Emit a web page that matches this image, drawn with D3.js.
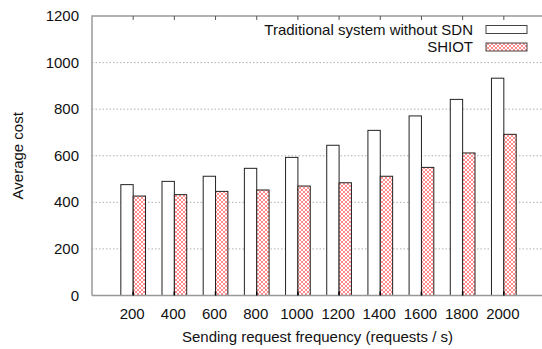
<!DOCTYPE html>
<html>
<head>
  <title>Average cost</title>
  <script src="https://d3js.org/d3.v7.min.js"></script>
  <style>
    body { margin: 0; background: #fff; }
    text { font-family: "Liberation Sans", Arial, sans-serif; fill: #111; }
  </style>
</head>
<body>
<script>
var frequencies = ["200", "400", "600", "800", "1000", "1200", "1400", "1600", "1800", "2000"];
var traditional = [476, 490, 512, 546, 593, 645, 709, 771, 842, 933];
var shiot = [427, 433, 447, 453, 470, 484, 512, 550, 612, 692];
var yTicks = [0, 200, 400, 600, 800, 1000, 1200];
var seriesNames = ["Traditional system without SDN", "SHIOT"];

var width = 542, height = 349;
var plotLeft = 92, plotTop = 16, plotBottom = 295.5, plotRight = 545;

var svg = d3.select("body").append("svg")
    .attr("width", width)
    .attr("height", height);

// red cross-hatch fill
var defs = svg.append("defs");
var pat = defs.append("pattern")
    .attr("id", "hatch")
    .attr("patternUnits", "userSpaceOnUse")
    .attr("width", 4)
    .attr("height", 4);
pat.append("rect").attr("width", 4).attr("height", 4).attr("fill", "#fff");
pat.append("path")
    .attr("d", "M0,0 L4,4 M4,0 L0,4")
    .attr("stroke", "#ff7070")
    .attr("stroke-width", 0.8);

var x = d3.scaleLinear().domain([-1, 10]).range([plotLeft, plotRight]);
var y = d3.scaleLinear().domain([0, 1200]).range([plotBottom, plotTop]);
var unit = x(1) - x(0);
var bw = unit * 0.3;

// grid
svg.append("g")
  .selectAll("line")
  .data(yTicks.filter(function(d) { return d > 0 && d < 1200; }))
  .enter().append("line")
    .attr("x1", plotLeft).attr("x2", width)
    .attr("y1", function(d) { return y(d); })
    .attr("y2", function(d) { return y(d); })
    .attr("stroke", "#b0b0b0")
    .attr("stroke-width", 1)
    .attr("stroke-dasharray", "1.5,2");

// bars
var groups = svg.append("g").selectAll("g")
    .data(frequencies)
    .enter().append("g");

groups.append("rect")
    .attr("x", function(d, i) { return x(i) - bw; })
    .attr("y", function(d, i) { return y(traditional[i]); })
    .attr("width", bw)
    .attr("height", function(d, i) { return y(0) - y(traditional[i]); })
    .attr("fill", "#fff")
    .attr("stroke", "#222")
    .attr("stroke-width", 1);

groups.append("rect")
    .attr("x", function(d, i) { return x(i); })
    .attr("y", function(d, i) { return y(shiot[i]); })
    .attr("width", bw)
    .attr("height", function(d, i) { return y(0) - y(shiot[i]); })
    .attr("fill", "url(#hatch)")
    .attr("stroke", "#222")
    .attr("stroke-width", 1);

// frame
svg.append("path")
    .attr("d", "M" + plotLeft + "," + plotBottom + " L" + plotLeft + "," + plotTop + " L" + width + "," + plotTop +
               " M" + plotLeft + "," + plotBottom + " L" + width + "," + plotBottom)
    .attr("fill", "none")
    .attr("stroke", "#999")
    .attr("stroke-width", 1.5);

// category ticks top and bottom
frequencies.forEach(function(f, i) {
  svg.append("line")
      .attr("x1", x(i)).attr("x2", x(i))
      .attr("y1", plotTop).attr("y2", plotTop + 4)
      .attr("stroke", "#555");
  svg.append("line")
      .attr("x1", x(i)).attr("x2", x(i))
      .attr("y1", plotBottom).attr("y2", plotBottom - 4)
      .attr("stroke", "#000")
      .attr("stroke-width", 1.5);
});

// x tick labels
svg.append("g").selectAll("text")
    .data(frequencies)
    .enter().append("text")
    .attr("x", function(d, i) { return x(i) - 1; })
    .attr("y", 318.5)
    .attr("text-anchor", "middle")
    .style("font-size", "15px")
    .text(function(d) { return d; });

// y tick labels
svg.append("g").selectAll("text")
    .data(yTicks)
    .enter().append("text")
    .attr("x", 79)
    .attr("y", function(d) { return y(d) + 5; })
    .attr("text-anchor", "end")
    .style("font-size", "15px")
    .text(function(d) { return d; });

// axis titles
svg.append("text")
    .attr("x", (plotLeft + plotRight) / 2 - 1)
    .attr("y", 342)
    .attr("text-anchor", "middle")
    .style("font-size", "15px")
    .text("Sending request frequency (requests / s)");

svg.append("text")
    .attr("transform", "translate(23," + ((plotTop + plotBottom) / 2) + ") rotate(-90)")
    .attr("text-anchor", "middle")
    .style("font-size", "15px")
    .text("Average cost");

// legend
var legend = svg.append("g");
var legendY = [29.5, 47];
legend.selectAll("text")
    .data(seriesNames)
    .enter().append("text")
    .attr("x", 473)
    .attr("y", function(d, i) { return legendY[i] + 5; })
    .attr("text-anchor", "end")
    .style("font-size", "15px")
    .text(function(d) { return d; });

legend.selectAll("rect")
    .data(seriesNames)
    .enter().append("rect")
    .attr("x", 486)
    .attr("y", function(d, i) { return legendY[i] - 4; })
    .attr("width", 41)
    .attr("height", 8)
    .attr("fill", function(d, i) { return i === 0 ? "#fff" : "url(#hatch)"; })
    .attr("stroke", "#444")
    .attr("stroke-width", 1);
</script>
</body>
</html>
